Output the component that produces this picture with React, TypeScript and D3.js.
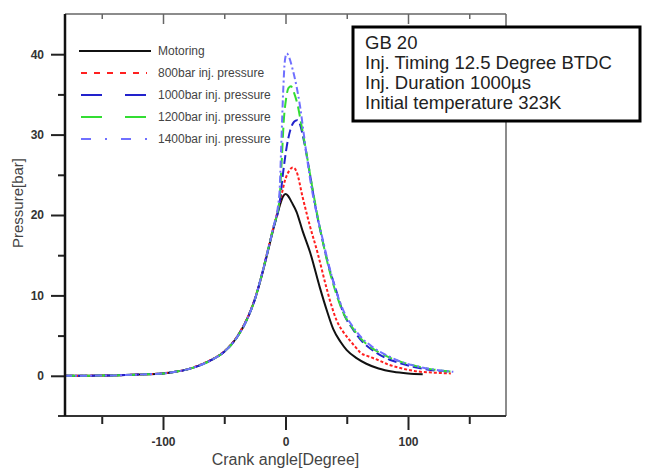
import React, { useRef, useEffect } from 'react';
import * as d3 from 'd3';

// crank angle [deg] and pressure [bar]
const crankMotoring = [-180, -160, -140, -120, -100, -90, -80, -70, -60, -50, -40, -30, -25, -20, -15, -10, -5, -2, 0, 2, 5, 9, 14, 20, 28, 34, 39, 45, 50, 58, 66, 76, 88, 100, 112];
const pMotoring = [0, 0.02, 0.05, 0.15, 0.3, 0.5, 0.8, 1.3, 2.0, 3.0, 4.7, 7.5, 9.5, 12.1, 15.1, 18.2, 21.0, 22.3, 22.6, 22.4, 21.6, 20.4, 18.0, 15.4, 11.0, 8.0, 5.8, 4.2, 3.2, 2.2, 1.5, 0.9, 0.5, 0.3, 0.2];

const crank800 = [-180, -160, -140, -120, -100, -90, -80, -70, -60, -50, -40, -30, -25, -20, -15, -10, -5, 0, 3, 6, 9, 14, 20, 26, 33, 38, 42, 47, 52, 57, 61, 68, 75, 84, 93, 105, 120, 135];
const p800 = [0, 0.02, 0.06, 0.16, 0.32, 0.5, 0.8, 1.35, 2.05, 3.05, 4.8, 7.6, 9.6, 12.2, 15.3, 18.4, 21.3, 24.5, 25.5, 25.9, 25.4, 22.2, 18.6, 15.4, 11.2, 8.5, 6.8, 5.5, 4.5, 3.6, 2.9, 2.4, 2.0, 1.4, 1.0, 0.6, 0.4, 0.3];

const crank1000 = [-180, -160, -140, -120, -100, -90, -80, -70, -60, -50, -40, -30, -25, -20, -15, -10, -5, -2, 1, 4, 7, 9.5, 12, 14.5, 18.5, 22, 26, 30, 35, 41, 47, 55, 63, 70, 77, 85, 93, 105, 120, 135];
const p1000 = [0, 0.02, 0.05, 0.15, 0.3, 0.5, 0.8, 1.3, 2.0, 3.0, 4.7, 7.5, 9.5, 12.2, 15.2, 18.3, 21.3, 25.2, 28.5, 30.6, 31.6, 31.8, 31.2, 29.6, 26.4, 23.2, 19.8, 17.0, 13.8, 10.8, 7.9, 5.8, 4.2, 3.3, 2.6, 2.0, 1.6, 1.1, 0.7, 0.5];

const crank1200 = [-180, -160, -140, -120, -100, -90, -80, -70, -60, -50, -40, -30, -25, -20, -15, -10, -5, -3, -1.5, 0.5, 2.5, 4.5, 7, 10, 13, 17, 21, 25, 30, 35, 41, 47, 55, 63, 70, 78, 86, 95, 107, 120, 137];
const p1200 = [0, 0.02, 0.05, 0.15, 0.3, 0.5, 0.8, 1.3, 2.0, 3.0, 4.7, 7.5, 9.5, 12.2, 15.2, 18.4, 21.8, 27.0, 31.5, 34.5, 35.8, 36.0, 35.2, 33.6, 31.2, 27.8, 24.2, 20.8, 17.0, 13.6, 10.4, 7.9, 5.9, 4.4, 3.5, 2.8, 2.2, 1.7, 1.2, 0.8, 0.5];

const crank1400 = [-180, -160, -140, -120, -100, -90, -80, -70, -60, -50, -40, -30, -25, -20, -15, -10, -5, -3.5, -2, -0.5, 1, 3, 6, 9, 12, 15, 18, 21, 25, 30, 35, 41, 47, 55, 63, 70, 78, 86, 95, 107, 120, 137];
const p1400 = [0, 0.02, 0.05, 0.15, 0.3, 0.5, 0.8, 1.3, 2.0, 3.0, 4.7, 7.5, 9.5, 12.2, 15.2, 18.4, 22.6, 28.5, 35.0, 39.2, 40.1, 39.6, 38.0, 36.0, 33.4, 30.0, 26.6, 23.6, 20.5, 17.2, 14.0, 10.7, 8.2, 6.1, 4.6, 3.7, 2.9, 2.3, 1.7, 1.2, 0.8, 0.5];

const seriesNames = ['Motoring', '800bar inj. pressure', '1000bar inj. pressure', '1200bar inj. pressure', '1400bar inj. pressure'];
const seriesColors = ['#111111', '#ff2020', '#2222cc', '#33dd33', '#7070ff'];
const curveDashes = ['none', '3,2', '9,4', '10,5', '7,3,2,3'];
const legendDashes = ['none', '6,7', '21,23', '21,23', '10,14,2,14'];

const xMajorTicks = [-100, 0, 100];
const xMinorTicks = [-150, -50, 50, 150];
const yMajorTicks = [0, 10, 20, 30, 40];
const yMinorTicks = [5, 15, 25, 35];

const infoLines = ['GB 20', 'Inj. Timing 12.5 Degree BTDC', 'Inj. Duration 1000\u00b5s', 'Initial temperature 323K'];

const FONT = 'Arial, "Liberation Sans", sans-serif';

const App = () => {
  const svgRef = useRef<SVGSVGElement>(null);
  const width = 645;
  const height = 470;
  const left = 65, right = 506, top = 14, bottom = 416;

  useEffect(() => {
    const svg = d3.select(svgRef.current);
    svg.selectAll('*').remove();

    const xScale = d3.scaleLinear().domain([-180, 180]).range([left, right]);
    const yScale = d3.scaleLinear().domain([-5, 45]).range([bottom, top]);

    const series = [
      { x: crankMotoring, y: pMotoring },
      { x: crank800, y: p800 },
      { x: crank1000, y: p1000 },
      { x: crank1200, y: p1200 },
      { x: crank1400, y: p1400 },
    ];

    // frame (top and right, thin grey)
    svg.append('line').attr('x1', left).attr('x2', right).attr('y1', top).attr('y2', top)
      .attr('stroke', '#666').attr('stroke-width', 1.5);
    svg.append('line').attr('x1', right).attr('x2', right).attr('y1', top).attr('y2', bottom)
      .attr('stroke', '#666').attr('stroke-width', 1.5);

    // inner ticks on top frame
    const topMajor = d3.axisBottom(xScale).tickValues(xMajorTicks).tickSize(10).tickFormat(() => '');
    const topMinor = d3.axisBottom(xScale).tickValues(xMinorTicks).tickSize(5).tickFormat(() => '');
    [topMajor, topMinor].forEach(ax => {
      const g = svg.append('g').attr('transform', `translate(0,${top})`).call(ax);
      g.select('.domain').remove();
      g.selectAll('line').attr('stroke', '#666').attr('stroke-width', 1.5);
    });

    // curves
    series.forEach((s, i) => {
      const pts = s.x.map((c, k) => [c, s.y[k]] as [number, number]);
      const path = d3.line<[number, number]>()
        .x(d => xScale(d[0]))
        .y(d => yScale(d[1]))
        .curve(d3.curveMonotoneX);
      svg.append('path')
        .attr('d', path(pts))
        .attr('fill', 'none')
        .attr('stroke', seriesColors[i])
        .attr('stroke-width', 2)
        .attr('stroke-dasharray', curveDashes[i]);
    });

    // bottom axis
    const xMajor = d3.axisBottom(xScale).tickValues(xMajorTicks).tickSize(14).tickPadding(7)
      .tickSizeOuter(0).tickFormat(d => String(d));
    const xMinor = d3.axisBottom(xScale).tickValues(xMinorTicks).tickSize(8).tickFormat(() => '');
    const gxMinor = svg.append('g').attr('transform', `translate(0,${bottom})`).call(xMinor);
    gxMinor.select('.domain').remove();
    const gx = svg.append('g').attr('transform', `translate(0,${bottom})`).call(xMajor);
    gx.select('.domain').remove();
    svg.append('line').attr('x1', left - 7).attr('x2', right).attr('y1', bottom).attr('y2', bottom)
      .attr('stroke', '#333').attr('stroke-width', 2);
    [gx, gxMinor].forEach(g => g.selectAll('line').attr('stroke', '#222').attr('stroke-width', 2));
    gx.selectAll('text').attr('font-family', FONT).attr('font-size', 12).attr('font-weight', 'bold').attr('fill', '#333');

    // left axis
    const yMajor = d3.axisLeft(yScale).tickValues(yMajorTicks).tickSize(14).tickPadding(7)
      .tickSizeOuter(0).tickFormat(d => String(d));
    const yMinor = d3.axisLeft(yScale).tickValues(yMinorTicks).tickSize(7).tickFormat(() => '');
    const gyMinor = svg.append('g').attr('transform', `translate(${left},0)`).call(yMinor);
    gyMinor.select('.domain').remove();
    const gy = svg.append('g').attr('transform', `translate(${left},0)`).call(yMajor);
    gy.select('.domain').remove();
    svg.append('line').attr('x1', left).attr('x2', left).attr('y1', top).attr('y2', bottom)
      .attr('stroke', '#111').attr('stroke-width', 2.5);
    [gy, gyMinor].forEach(g => g.selectAll('line').attr('stroke', '#222').attr('stroke-width', 2));
    gy.selectAll('text').attr('font-family', FONT).attr('font-size', 12).attr('font-weight', 'bold').attr('fill', '#333');

    // axis titles
    svg.append('text')
      .attr('transform', `translate(23,${(top + bottom) / 2 - 12}) rotate(-90)`)
      .attr('text-anchor', 'middle')
      .attr('font-family', FONT).attr('font-size', 15).attr('fill', '#444')
      .text('Pressure[bar]');
    svg.append('text')
      .attr('x', xScale(0)).attr('y', 465)
      .attr('text-anchor', 'middle')
      .attr('font-family', FONT).attr('font-size', 16).attr('fill', '#444')
      .text('Crank angle[Degree]');

    // legend
    const rowY = d3.scalePoint<string>().domain(seriesNames).range([51, 139]);
    seriesNames.forEach((name, i) => {
      const y = rowY(name) as number;
      svg.append('line')
        .attr('x1', i === 0 ? 79 : 81).attr('x2', i === 0 ? 151 : 147)
        .attr('y1', y).attr('y2', y)
        .attr('stroke', seriesColors[i]).attr('stroke-width', 2)
        .attr('stroke-dasharray', legendDashes[i]);
      svg.append('text')
        .attr('x', 158).attr('y', y).attr('dy', '0.35em')
        .attr('font-family', FONT).attr('font-size', 12).attr('fill', '#444')
        .text(name);
    });

    // info box
    svg.append('rect')
      .attr('x', 353).attr('y', 27).attr('width', 287).attr('height', 94)
      .attr('fill', '#fff').attr('stroke', '#000').attr('stroke-width', 3);
    infoLines.forEach((t, i) => {
      svg.append('text')
        .attr('x', 365).attr('y', 49 + i * 20)
        .attr('font-family', FONT).attr('font-size', 18.5).attr('fill', '#222')
        .text(t);
    });
  }, []);

  return (
    <div style={{ position: 'absolute', left: 0, top: 0 }}>
      <svg ref={svgRef} width={width} height={height} style={{ display: 'block', background: '#fff' }} />
    </div>
  );
};

export default App;
